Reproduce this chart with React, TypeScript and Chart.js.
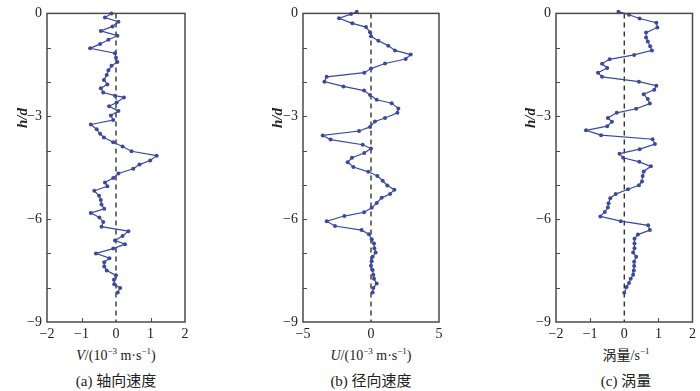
import React, { useEffect, useRef } from 'react';
import { Chart, registerables } from 'chart.js';

Chart.register(...registerables);

// ---------- data ----------
const hA = [0.0, -0.12, -0.24, -0.38, -0.51, -0.65, -0.77, -0.89, -1.02, -1.16, -1.29, -1.42, -1.53, -1.66, -1.8, -1.94, -2.07, -2.18, -2.31, -2.4, -2.45, -2.6, -2.71, -2.85, -2.98, -3.11, -3.24, -3.38, -3.51, -3.62, -3.76, -3.88, -4.02, -4.15, -4.29, -4.41, -4.53, -4.67, -4.8, -4.93, -5.04, -5.17, -5.32, -5.44, -5.57, -5.7, -5.82, -5.95, -6.08, -6.22, -6.35, -6.49, -6.62, -6.73, -6.86, -7.0, -7.14, -7.26, -7.38, -7.5, -7.64, -7.77, -7.9, -8.01, -8.14];
const vA = [-0.13, -0.32, 0.07, -0.1, -0.44, 0.04, -0.22, -0.46, -0.75, -0.03, 0.0, 0.04, -0.13, -0.22, -0.27, -0.35, -0.25, -0.44, -0.37, -0.03, 0.23, 0.02, -0.2, 0.07, -0.15, -0.08, -0.73, -0.56, -0.46, -0.35, -0.08, 0.19, 0.45, 1.18, 0.99, 0.68, 0.5, 0.07, -0.08, -0.32, -0.25, -0.63, -0.49, -0.44, -0.42, -0.34, -0.73, -0.48, -0.37, -0.42, 0.36, 0.19, -0.03, 0.26, -0.08, -0.58, -0.19, -0.34, -0.34, -0.27, 0.0, -0.06, -0.05, 0.12, 0.05];

const hB = [0.05, -0.02, -0.14, -0.29, -0.4, -0.55, -0.67, -0.8, -0.94, -1.08, -1.2, -1.33, -1.46, -1.61, -1.73, -1.85, -1.99, -2.13, -2.25, -2.38, -2.52, -2.62, -2.77, -2.9, -3.05, -3.15, -3.31, -3.43, -3.56, -3.68, -3.83, -3.94, -4.07, -4.21, -4.34, -4.48, -4.62, -4.74, -4.88, -5.02, -5.14, -5.27, -5.38, -5.53, -5.67, -5.8, -5.91, -6.06, -6.2, -6.32, -6.44, -6.59, -6.71, -6.85, -6.97, -7.1, -7.23, -7.36, -7.48, -7.62, -7.74, -7.88, -8.01, -8.14];
const uB = [-1.05, -1.47, -2.35, -1.37, -0.37, -0.07, 0.0, 0.54, 1.27, 1.76, 2.92, 2.55, 1.03, 0.0, -0.49, -3.26, -3.43, -2.03, -0.51, -0.07, 0.42, 1.52, 2.01, 1.94, 1.03, 0.29, -0.07, -0.88, -3.55, -2.97, -0.61, 0.0, -0.5, -1.4, -1.72, -1.3, -0.2, 0.47, 0.86, 1.2, 1.72, 1.4, 0.78, 0.42, 0.05, -0.51, -1.96, -3.26, -2.65, -0.69, -0.15, 0.05, 0.22, 0.25, 0.34, 0.12, 0.05, 0.0, 0.12, 0.17, 0.22, 0.42, 0.17, 0.12];

const hC = [0.05, -0.04, -0.15, -0.27, -0.41, -0.56, -0.7, -0.82, -0.96, -1.08, -1.21, -1.34, -1.47, -1.59, -1.73, -1.85, -1.99, -2.11, -2.23, -2.36, -2.5, -2.63, -2.78, -2.9, -3.05, -3.16, -3.29, -3.41, -3.55, -3.67, -3.81, -3.96, -4.09, -4.21, -4.33, -4.46, -4.61, -4.74, -4.9, -5.01, -5.13, -5.27, -5.39, -5.54, -5.66, -5.79, -5.92, -6.06, -6.18, -6.32, -6.45, -6.57, -6.71, -6.85, -6.97, -7.1, -7.24, -7.37, -7.5, -7.62, -7.74, -7.86, -7.98, -8.15];
const wC = [-0.17, 0.14, 0.45, 0.94, 0.97, 0.64, 0.64, 0.69, 0.76, 0.81, 0.29, -0.43, -0.65, -0.5, -0.77, -0.65, 0.43, 0.94, 0.88, 0.57, 0.69, 0.75, 0.35, -0.22, -0.48, -0.36, -0.5, -1.12, -0.68, 0.83, 0.9, 0.45, -0.14, -0.03, 0.44, 0.78, 0.57, 0.54, 0.52, 0.43, 0.11, -0.25, -0.41, -0.46, -0.48, -0.57, -0.7, -0.1, 0.7, 0.75, 0.4, 0.3, 0.3, 0.3, 0.26, 0.35, 0.29, 0.29, 0.28, 0.26, 0.19, 0.14, 0.07, 0.0];

const yTickMarks = [-1, -2, -3, -4, -5, -6, -7, -8];
const xTickMarksAC = [-1, 1];
const xTickMarksB: number[] = [];

// ---------- styles ----------
const LINE = '#3c4a9c';
const FRAME = '#4a4a4a';
const FONT = "'Liberation Serif', 'Times New Roman', serif";
const CJK = "'Liberation Serif', 'Noto Sans CJK SC', serif";

const fmt = (v: number | string) => String(v).replace('-', '\u2212');

const panelPlugin = {
  id: 'panelDeco',
  beforeDatasetsDraw(chart: any) {
    const { ctx, chartArea, scales } = chart;
    const x0 = scales.x.getPixelForValue(0);
    ctx.save();
    ctx.strokeStyle = '#111';
    ctx.lineWidth = 1.2;
    ctx.setLineDash([5, 4]);
    ctx.beginPath();
    ctx.moveTo(x0, chartArea.top);
    ctx.lineTo(x0, chartArea.bottom);
    ctx.stroke();
    ctx.restore();
  },
  afterDraw(chart: any, _args: any, opts: any) {
    const { ctx, chartArea, scales } = chart;
    ctx.save();
    ctx.strokeStyle = FRAME;
    ctx.lineWidth = 1.5;
    ctx.strokeRect(chartArea.left, chartArea.top, chartArea.right - chartArea.left, chartArea.bottom - chartArea.top);
    ctx.lineWidth = 1;
    ctx.beginPath();
    (opts.yMarks || []).forEach((v: number) => {
      const y = Math.round(scales.y.getPixelForValue(v)) + 0.5;
      ctx.moveTo(chartArea.left, y);
      ctx.lineTo(chartArea.left + 4, y);
    });
    (opts.xMarks || []).forEach((v: number) => {
      const x = Math.round(scales.x.getPixelForValue(v)) + 0.5;
      ctx.moveTo(x, chartArea.bottom);
      ctx.lineTo(x, chartArea.bottom - 4);
    });
    ctx.stroke();
    ctx.restore();
  },
};

function Panel(props: {
  left: number; width: number; axisW: number; padR: number;
  xs: number[]; ys: number[]; xmin: number; xmax: number; xstep: number; xMarks: number[];
}) {
  const ref = useRef<HTMLCanvasElement | null>(null);
  useEffect(() => {
    if (!ref.current) return;
    const chart = new Chart(ref.current, {
      type: 'scatter',
      data: {
        datasets: [{
          data: props.xs.map((v, i) => ({ x: v, y: props.ys[i] })),
          showLine: true,
          borderColor: LINE,
          backgroundColor: LINE,
          borderWidth: 1.2,
          pointRadius: 2,
          pointBorderWidth: 0,
          pointBackgroundColor: LINE,
          clip: 4,
        }],
      },
      options: {
        animation: false,
        responsive: false,
        maintainAspectRatio: false,
        layout: { padding: { top: 9, right: props.padR, left: 0, bottom: 0 } },
        plugins: {
          legend: { display: false },
          tooltip: { enabled: false },
          panelDeco: { yMarks: yTickMarks, xMarks: props.xMarks },
        } as any,
        scales: {
          x: {
            type: 'linear',
            min: props.xmin,
            max: props.xmax,
            grid: { display: false, drawTicks: false },
            border: { display: false },
            afterFit: (s: any) => { s.height = 23; },
            ticks: {
              stepSize: props.xstep,
              padding: 4,
              color: '#222',
              font: { family: FONT, size: 14 },
              callback: (v: any) => fmt(v),
            },
          },
          y: {
            type: 'linear',
            min: -9,
            max: 0,
            grid: { display: false, drawTicks: false },
            border: { display: false },
            afterFit: (s: any) => { s.width = props.axisW; },
            ticks: {
              stepSize: 3,
              padding: 5,
              color: '#222',
              autoSkip: false,
              font: { family: FONT, size: 14 },
              callback: (v: any) => fmt(v),
            },
          },
        },
      },
      plugins: [panelPlugin],
    });
    return () => chart.destroy();
  }, []);
  return (
    <canvas
      ref={ref}
      width={props.width}
      height={345}
      style={{ position: 'absolute', left: props.left, top: 0, width: props.width, height: 345 }}
    />
  );
}

const textBase: React.CSSProperties = {
  position: 'absolute',
  transform: 'translate(-50%, -50%)',
  whiteSpace: 'nowrap',
  fontFamily: FONT,
  fontSize: 14,
  color: '#222',
  lineHeight: 1,
};
const supStyle: React.CSSProperties = { fontSize: 9, position: 'relative', top: -6 };

function HLabel({ x }: { x: number }) {
  return (
    <div style={{ ...textBase, left: x, top: 118, transform: 'translate(-50%, -50%) rotate(-90deg)', fontStyle: 'italic', fontWeight: 'bold', fontSize: 15 }}>
      h/d
    </div>
  );
}

export default function App() {
  return (
    <div style={{ position: 'absolute', left: 0, top: 0, width: 700, height: 391, background: '#fff', overflow: 'hidden' }}>
      <Panel left={0} width={200} axisW={47} padR={15} xs={vA} ys={hA} xmin={-2} xmax={2} xstep={1} xMarks={xTickMarksAC} />
      <Panel left={255} width={200} axisW={48} padR={16} xs={uB} ys={hB} xmin={-5} xmax={5} xstep={5} xMarks={xTickMarksB} />
      <Panel left={505} width={195} axisW={51} padR={4} xs={wC} ys={hC} xmin={-2} xmax={2} xstep={1} xMarks={xTickMarksAC} />

      <HLabel x={22} />
      <HLabel x={277} />
      <HLabel x={530} />

      <div style={{ ...textBase, left: 116, top: 356 }}>
        <i>V</i>/(10<span style={supStyle}>{'\u22123'}</span> m·s<span style={supStyle}>{'\u22121'}</span>)
      </div>
      <div style={{ ...textBase, left: 371, top: 356 }}>
        <i>U</i>/(10<span style={supStyle}>{'\u22123'}</span> m·s<span style={supStyle}>{'\u22121'}</span>)
      </div>
      <div style={{ ...textBase, left: 626, top: 356, fontFamily: CJK }}>
        涡量/s<span style={supStyle}>{'\u22121'}</span>
      </div>

      <div style={{ ...textBase, left: 116, top: 381, fontFamily: CJK, fontSize: 15 }}>(a) 轴向速度</div>
      <div style={{ ...textBase, left: 371, top: 381, fontFamily: CJK, fontSize: 15 }}>(b) 径向速度</div>
      <div style={{ ...textBase, left: 626, top: 381, fontFamily: CJK, fontSize: 15 }}>(c) 涡量</div>
    </div>
  );
}
